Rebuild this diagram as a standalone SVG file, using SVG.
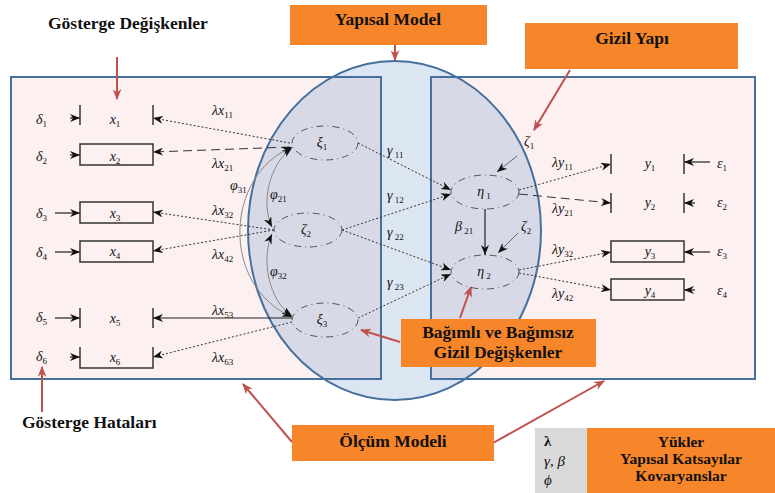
<svg xmlns="http://www.w3.org/2000/svg" width="775" height="493" viewBox="0 0 775 493" font-family="'Liberation Serif', 'Times New Roman', serif">
<style>
.t{font-family:"Liberation Serif","Times New Roman",serif;fill:#111}
.b{font-weight:bold;font-size:17.5px}
.lg{font-weight:bold;font-size:15.5px}
.i{font-style:italic;font-size:14px}
.s{font-size:9px;font-style:normal}
.box{fill:none;stroke:#333;stroke-width:1.5}
.lv{fill:none;stroke:#555;stroke-width:1;stroke-dasharray:7,4,1,4}
.dot{fill:none;stroke:#333;stroke-width:1;stroke-dasharray:2,2;marker-end:url(#ah)}
.dash{fill:none;stroke:#333;stroke-width:1;stroke-dasharray:9,5;marker-end:url(#ah)}
.sol{fill:none;stroke:#222;stroke-width:1.2;marker-end:url(#ah)}
.cov{fill:none;stroke:#888;stroke-width:1;marker-start:url(#ah);marker-end:url(#ah)}
.red{fill:none;stroke:#c0504d;stroke-width:2;marker-end:url(#ar)}
.or{fill:#f7862a}
</style>
<defs>
<marker id="ah" viewBox="0 0 10 8" refX="10" refY="4" markerWidth="10" markerHeight="8" markerUnits="userSpaceOnUse" orient="auto-start-reverse">
<path d="M0,0 L10,4 L0,8 L3,4 z" fill="#111"/>
</marker>
<marker id="ar" viewBox="0 0 10 8" refX="9" refY="4" markerWidth="11" markerHeight="9" markerUnits="userSpaceOnUse" orient="auto">
<path d="M0,0 L10,4 L0,8 L3,4 z" fill="#c0504d"/>
</marker>
<clipPath id="ec"><ellipse cx="394.5" cy="230.5" rx="146.5" ry="169.5"/></clipPath>
</defs>

<g id="background">
<rect x="11" y="77" width="370" height="302" fill="#fdf0f0"/>
<rect x="431" y="77" width="324" height="302" fill="#fdf0f0"/>
<ellipse cx="394.5" cy="230.5" rx="146.5" ry="169.5" fill="#dce6f3"/>
<g clip-path="url(#ec)">
<rect x="11" y="77" width="370" height="302" fill="#d8d9e7"/>
<rect x="431" y="77" width="324" height="302" fill="#d8d9e7"/>
</g>
<rect x="11" y="77" width="370" height="302" fill="none" stroke="#45709e" stroke-width="2"/>
<rect x="431" y="77" width="324" height="302" fill="none" stroke="#45709e" stroke-width="2"/>
<ellipse cx="394.5" cy="230.5" rx="146.5" ry="169.5" fill="none" stroke="#45709e" stroke-width="2"/>
</g>

<g id="connectors">
<path class="dot" d="M290,143 L153,118"/>
<path class="dash" d="M290,147 L153,152"/>
<path class="dot" d="M274,230 L153,212"/>
<path class="dot" d="M274,230 L153,251"/>
<path class="sol" d="M292,318 L153,318"/>
<path class="dot" d="M292,322 L153,357"/>
<path class="cov" d="M292,148 C268,165 261,205 272,227"/>
<path class="cov" d="M272,234 C261,258 268,300 292,316"/>
<path class="cov" d="M292,147 C225,175 220,285 292,317"/>
<path class="dot" d="M358,143 L451,190"/>
<path class="dot" d="M342,230 L451,194"/>
<path class="dot" d="M342,230 L451,270"/>
<path class="dot" d="M358,318 L451,274"/>
<path class="sol" d="M485,209 L485,255"/>
<path fill="none" stroke="#666" stroke-width="1" marker-end="url(#ah)" d="M517,156 L497,172"/>
<path fill="none" stroke="#666" stroke-width="1" marker-end="url(#ah)" d="M518,233 L498,253"/>
<path class="dot" d="M519,190 L611,164"/>
<path class="dash" d="M519,194 L611,203"/>
<path class="dot" d="M519,270 L611,252"/>
<path class="dot" d="M519,273 L611,290"/>
<path class="sol" d="M70,118 L80,118"/>
<path class="sol" d="M70,155 L80,155"/>
<path class="sol" d="M55,213 L80,213"/>
<path class="sol" d="M55,252 L80,252"/>
<path class="sol" d="M55,318 L80,318"/>
<path class="sol" d="M70,357 L80,357"/>
<path class="sol" d="M710,162 L684,162"/>
<path class="sol" d="M695,203 L684,203"/>
<path class="sol" d="M710,252 L684,252"/>
<path class="sol" d="M695,290 L684,290"/>
<path class="red" d="M117,57 L117,99"/>
<path class="red" d="M395,45 L395,60"/>
<path class="red" d="M570,70 L534,130"/>
<path class="red" d="M400,342 L361,330"/>
<path class="red" d="M460,318 L471,287"/>
<path class="red" d="M42,412 L42,367"/>
<path class="red" d="M292,442 L243,384"/>
<path class="red" d="M493,443 L604,381"/>
</g>

<g id="labels-paths">
<text class="t i" x="212" y="115">λx<tspan class="s" dy="3">11</tspan></text>
<text class="t i" x="212" y="168">λx<tspan class="s" dy="3">21</tspan></text>
<text class="t i" x="230" y="190">φ<tspan class="s" dy="3">31</tspan></text>
<text class="t i" x="212" y="215">λx<tspan class="s" dy="3">32</tspan></text>
<text class="t i" x="212" y="259">λx<tspan class="s" dy="3">42</tspan></text>
<text class="t i" x="212" y="315">λx<tspan class="s" dy="3">53</tspan></text>
<text class="t i" x="212" y="362">λx<tspan class="s" dy="3">63</tspan></text>
<text class="t i" x="270" y="199">φ<tspan class="s" dy="3">21</tspan></text>
<text class="t i" x="270" y="276">φ<tspan class="s" dy="3">32</tspan></text>
<text class="t i" x="387" y="155">γ<tspan class="s" dy="3"> 11</tspan></text>
<text class="t i" x="387" y="200">γ<tspan class="s" dy="3"> 12</tspan></text>
<text class="t i" x="387" y="237">γ<tspan class="s" dy="3"> 22</tspan></text>
<text class="t i" x="387" y="287">γ<tspan class="s" dy="3"> 23</tspan></text>
<text class="t i" x="455" y="231">β<tspan class="s" dy="3"> 21</tspan></text>
<text class="t i" x="524" y="146">ζ<tspan class="s" dy="3">1</tspan></text>
<text class="t i" x="521" y="231">ζ<tspan class="s" dy="3">2</tspan></text>
<text class="t i" x="552" y="167">λy<tspan class="s" dy="3">11</tspan></text>
<text class="t i" x="552" y="213">λy<tspan class="s" dy="3">21</tspan></text>
<text class="t i" x="552" y="254">λy<tspan class="s" dy="3">32</tspan></text>
<text class="t i" x="552" y="298">λy<tspan class="s" dy="3">42</tspan></text>
</g>

<g id="latent-xi1"><ellipse class="lv" cx="325" cy="143" rx="33" ry="17"/><text class="t i" x="322" y="147" text-anchor="middle">ξ<tspan class="s" dy="3">1</tspan></text></g>
<g id="latent-zeta2"><ellipse class="lv" cx="308" cy="230" rx="34" ry="17"/><text class="t i" x="306" y="234" text-anchor="middle">ζ<tspan class="s" dy="3">2</tspan></text></g>
<g id="latent-xi3"><ellipse class="lv" cx="325" cy="320" rx="33" ry="17"/><text class="t i" x="322" y="324" text-anchor="middle">ξ<tspan class="s" dy="3">3</tspan></text></g>
<g id="latent-eta1"><ellipse class="lv" cx="485" cy="192" rx="34" ry="17"/><text class="t i" x="484" y="196" text-anchor="middle">η<tspan class="s" dy="3"> 1</tspan></text></g>
<g id="latent-eta2"><ellipse class="lv" cx="485" cy="272" rx="34" ry="17"/><text class="t i" x="484" y="276" text-anchor="middle">η<tspan class="s" dy="3"> 2</tspan></text></g>

<g id="x1"><path class="box" d="M80,105 V125 M153,105 V125"/><text class="t i" x="115" y="124" text-anchor="middle">x<tspan class="s" dy="3">1</tspan></text><text class="t i" x="36" y="124">δ<tspan class="s" dy="3">1</tspan></text></g>
<g id="x2"><rect class="box" x="80" y="144" width="73" height="21"/><text class="t i" x="115" y="161" text-anchor="middle">x<tspan class="s" dy="3">2</tspan></text><text class="t i" x="36" y="161">δ<tspan class="s" dy="3">2</tspan></text></g>
<g id="x3"><rect class="box" x="80" y="202" width="73" height="21"/><text class="t i" x="115" y="218" text-anchor="middle">x<tspan class="s" dy="3">3</tspan></text><text class="t i" x="36" y="218">δ<tspan class="s" dy="3">3</tspan></text></g>
<g id="x4"><rect class="box" x="80" y="241" width="73" height="21"/><text class="t i" x="115" y="256" text-anchor="middle">x<tspan class="s" dy="3">4</tspan></text><text class="t i" x="36" y="257">δ<tspan class="s" dy="3">4</tspan></text></g>
<g id="x5"><path class="box" d="M80,308 V328 M153,308 V328"/><text class="t i" x="115" y="323" text-anchor="middle">x<tspan class="s" dy="3">5</tspan></text><text class="t i" x="36" y="322">δ<tspan class="s" dy="3">5</tspan></text></g>
<g id="x6"><path class="box" d="M80,347 V368 H153 V347"/><text class="t i" x="115" y="362" text-anchor="middle">x<tspan class="s" dy="3">6</tspan></text><text class="t i" x="36" y="361">δ<tspan class="s" dy="3">6</tspan></text></g>

<g id="y1"><path class="box" d="M611,154 V174 M684,154 V174"/><text class="t i" x="650" y="168" text-anchor="middle">y<tspan class="s" dy="3">1</tspan></text><text class="t i" x="717" y="168">ε<tspan class="s" dy="3">1</tspan></text></g>
<g id="y2"><path class="box" d="M611,193 V213 M684,193 V213"/><text class="t i" x="650" y="207" text-anchor="middle">y<tspan class="s" dy="3">2</tspan></text><text class="t i" x="717" y="207">ε<tspan class="s" dy="3">2</tspan></text></g>
<g id="y3"><rect class="box" x="611" y="241" width="73" height="21"/><text class="t i" x="650" y="256" text-anchor="middle">y<tspan class="s" dy="3">3</tspan></text><text class="t i" x="717" y="256">ε<tspan class="s" dy="3">3</tspan></text></g>
<g id="y4"><rect class="box" x="611" y="279" width="73" height="21"/><text class="t i" x="650" y="295" text-anchor="middle">y<tspan class="s" dy="3">4</tspan></text><text class="t i" x="717" y="295">ε<tspan class="s" dy="3">4</tspan></text></g>

<g id="note-gosterge-degiskenler"><text class="t b" x="48" y="29">Gösterge Değişkenler</text></g>
<g id="note-yapisal-model"><rect class="or" x="290" y="5" width="197" height="40"/><text class="t b" x="388" y="25" text-anchor="middle">Yapısal Model</text></g>
<g id="note-gizil-yapi"><rect class="or" x="525" y="23" width="213" height="46"/><text class="t b" x="632" y="44" text-anchor="middle">Gizil Yapı</text></g>
<g id="note-bagimli"><rect class="or" x="401" y="319" width="195" height="48"/><text class="t b" x="498" y="338" text-anchor="middle">Bağımlı ve Bağımsız</text><text class="t b" x="498" y="358" text-anchor="middle">Gizil Değişkenler</text></g>
<g id="note-gosterge-hatalari"><text class="t b" x="22" y="428">Gösterge Hataları</text></g>
<g id="note-olcum-modeli"><rect class="or" x="292" y="425" width="202" height="36"/><text class="t b" x="393" y="447" text-anchor="middle">Ölçüm Modeli</text></g>
<g id="legend">
<rect x="535" y="428" width="52" height="65" fill="#d9d9d9"/>
<text class="t" x="544" y="446" font-size="15" font-weight="bold">λ</text>
<text class="t" x="544" y="466" font-size="15" font-style="italic">γ, β</text>
<text class="t" x="544" y="485" font-size="15" font-style="italic">ϕ</text>
<rect class="or" x="587" y="428" width="188" height="65"/>
<text class="t lg" x="681" y="447" text-anchor="middle">Yükler</text>
<text class="t lg" x="681" y="464" text-anchor="middle">Yapısal Katsayılar</text>
<text class="t lg" x="681" y="481" text-anchor="middle">Kovaryanslar</text>
</g>
</svg>
